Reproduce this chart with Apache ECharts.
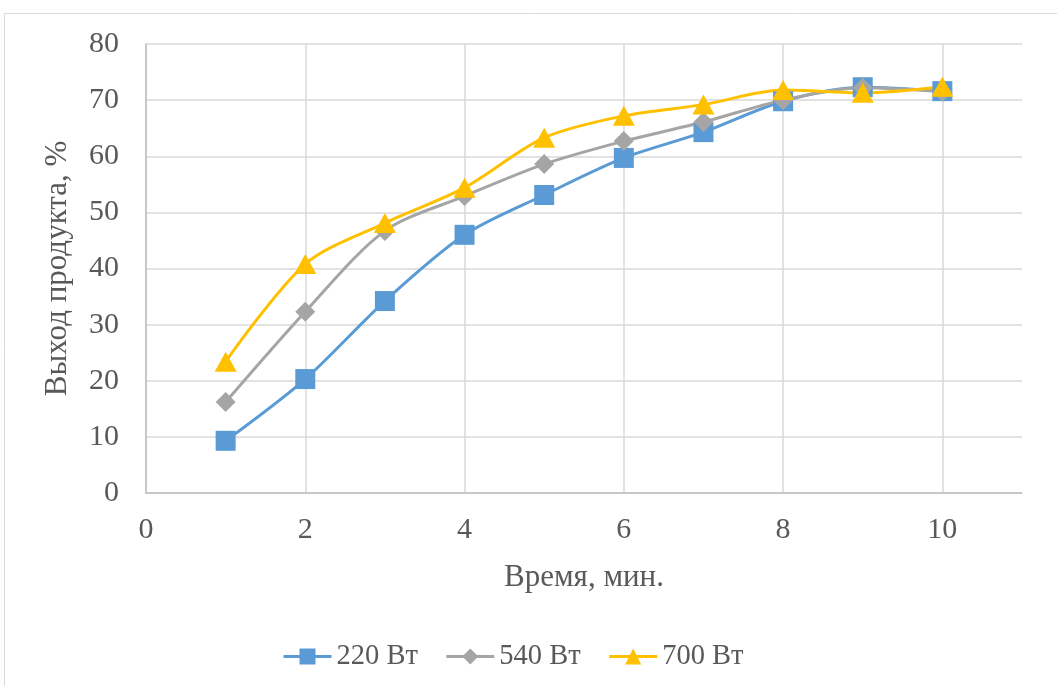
<!DOCTYPE html>
<html><head><meta charset="utf-8">
<script src="https://cdn.jsdelivr.net/npm/echarts@6/dist/echarts.min.js"></script>
<style>html,body{margin:0;padding:0;background:#fff}#c{width:1057px;height:686px}</style>
</head><body><div id="c"></div>
<script>
const times = [1,2,3,4,5,6,7,8,9,10];
const s220 = [9.3,20.3,34.2,46.0,53.1,59.7,64.3,69.8,72.3,71.6];
const s540 = [16.2,32.3,46.7,52.9,58.6,62.7,66.1,70.0,72.2,71.5];
const s700 = [23.4,40.8,48.1,54.4,63.3,67.2,69.2,71.8,71.3,72.4];
const seriesNames = ['220 Вт','540 Вт','700 Вт'];
const FONT = '"Liberation Serif","Times New Roman",serif';
const pair = arr => times.map((t,i)=>[t,arr[i]]);
const chart = echarts.init(document.getElementById('c'));
const gridColors = ['#d9d9d9','#d9d9d9','#d9d9d9','#d9d9d9','#d9d9d9','#d9d9d9','rgba(0,0,0,0)'];
chart.setOption({
  animation:false,
  backgroundColor:'#fff',
  graphic:[{type:'rect',shape:{x:4.5,y:13.5,width:1100,height:700},style:{fill:'none',stroke:'#d9d9d9',lineWidth:1},silent:true}],
  grid:{left:146,right:35,top:44,bottom:193},
  xAxis:{type:'value',min:0,max:11,interval:2,
    name:'Время, мин.',nameLocation:'middle',nameGap:69,
    nameTextStyle:{fontFamily:FONT,fontSize:31,color:'#595959'},
    axisLine:{show:true,lineStyle:{color:'#bfbfbf',width:1.5}},
    axisTick:{show:false},
    axisLabel:{fontFamily:FONT,fontSize:30,color:'#595959',margin:22,showMaxLabel:false,
      formatter:v=> v>10?'':String(v)},
    splitLine:{show:true,lineStyle:{color:gridColors,width:1.5}}},
  yAxis:{type:'value',min:0,max:80,interval:10,
    name:'Выход продукта, %',nameLocation:'middle',nameGap:73,
    nameTextStyle:{fontFamily:FONT,fontSize:31,color:'#595959'},
    axisLine:{show:true,lineStyle:{color:'#bfbfbf',width:1.5}},
    axisTick:{show:false},
    axisLabel:{fontFamily:FONT,fontSize:30,color:'#595959',margin:27},
    splitLine:{show:true,lineStyle:{color:'#d9d9d9',width:1.5}}},
  legend:{top:637,left:277,itemGap:27,itemWidth:48,itemHeight:20,
    lineStyle:{width:3},
    textStyle:{fontFamily:FONT,fontSize:28.5,color:'#595959'},
    data:seriesNames},
  series:[
    {name:seriesNames[0],type:'line',data:pair(s220),smooth:0.3,symbol:'rect',symbolSize:20,
      lineStyle:{width:3,color:'#5b9bd5'},itemStyle:{color:'#5b9bd5'}},
    {name:seriesNames[1],type:'line',data:pair(s540),smooth:0.3,symbol:'diamond',symbolSize:[20,20],
      lineStyle:{width:3,color:'#a5a5a5'},itemStyle:{color:'#a5a5a5'}},
    {name:seriesNames[2],type:'line',data:pair(s700),smooth:0.3,symbol:'triangle',symbolSize:[22,20],
      lineStyle:{width:3,color:'#ffc000'},itemStyle:{color:'#ffc000'}}
  ]
});
</script></body></html>
